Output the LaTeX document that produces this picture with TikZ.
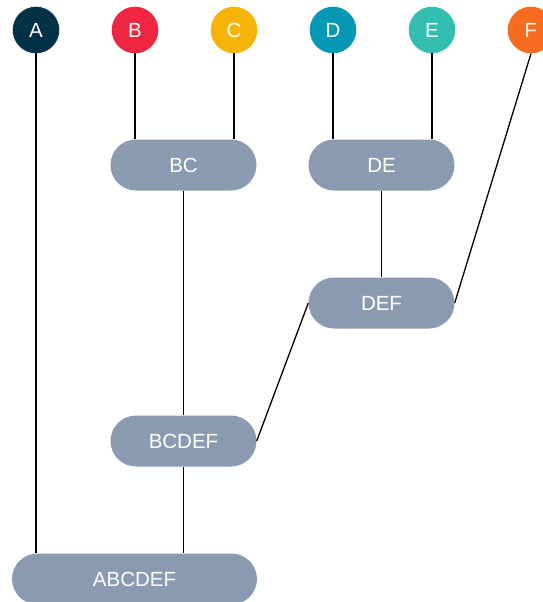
\documentclass[tikz,border=0pt]{standalone}
\usepackage{tikz}
\usepackage{xcolor}
\usepackage{fontspec}
\setmainfont{Liberation Sans}
\definecolor{leafNavy}{RGB}{3, 49, 72}
\definecolor{leafRed}{RGB}{240, 37, 66}
\definecolor{leafYellow}{RGB}{247, 180, 8}
\definecolor{leafTeal}{RGB}{4, 152, 181}
\definecolor{leafMint}{RGB}{50, 191, 178}
\definecolor{leafOrange}{RGB}{247, 108, 32}
\definecolor{mergeGray}{RGB}{138, 154, 176}

\begin{document}
\begin{tikzpicture}[x=1pt, y=-1pt,
    leaf/.style={circle, fill=#1, text=white, minimum size=46.6pt, inner sep=0pt, font=\fontsize{20.5}{21}\selectfont},
    merge/.style={fill=mergeGray, text=white, rounded corners=25.5pt, minimum height=51pt, minimum width=#1, inner sep=0pt, font=\fontsize{20.5}{21}\selectfont},
    link/.style={line width=1.3pt, black}]
      \useasboundingbox (0,0) rectangle (543,602);
      % leaves
      \node[leaf=leafNavy] (A) at (36,30) {A};
      \node[leaf=leafRed] (B) at (135,30) {B};
      \node[leaf=leafYellow] (C) at (234,30) {C};
      \node[leaf=leafTeal] (D) at (333,30) {D};
      \node[leaf=leafMint] (E) at (432,30) {E};
      \node[leaf=leafOrange] (F) at (531,30) {F};
      % merged clusters
      \node[merge=146pt] (BC) at (183.5,165) {BC};
      \node[merge=146pt] (DE) at (381.5,165) {DE};
      \node[merge=146pt] (DEF) at (381.5,303) {DEF};
      \node[merge=146pt] (BCDEF) at (183.5,441) {BCDEF};
      \node[merge=245pt] (ABCDEF) at (134.5,579) {ABCDEF};
      % links
      \draw[link] (B.south) -- (B.south |- BC.north);
      \draw[link] (C.south) -- (C.south |- BC.north);
      \draw[link] (D.south) -- (D.south |- DE.north);
      \draw[link] (E.south) -- (E.south |- DE.north);
      \draw[link] (DE.south) -- (DEF.north);
      \draw[link] (F.south) -- (DEF.east);
      \draw[link] (BC.south) -- (BCDEF.north);
      \draw[link] (BCDEF.east) -- (DEF.west);
      \draw[link] (BCDEF.south) -- (BCDEF.south |- ABCDEF.north);
      \draw[link] (A.south) -- (A.south |- ABCDEF.north);
\end{tikzpicture}
\end{document}
